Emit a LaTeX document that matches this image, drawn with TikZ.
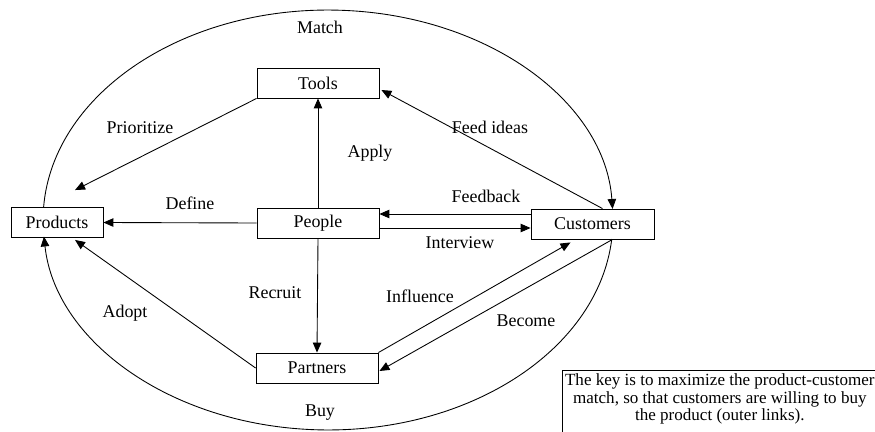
\documentclass[tikz,border=0pt]{standalone}
\usepackage{fontspec}
\setmainfont{Liberation Serif}
\usetikzlibrary{calc, arrows.meta}

\tikzset{
  unit/.style={draw, line width=0.5pt, minimum height=0.6cm, inner sep=0pt},
  link/.style={->, line width=0.5pt},
}

\begin{document}
\begin{tikzpicture}[x=0.02cm, y=-0.02cm, >={Triangle[length=0.2cm, width=0.17cm]},
  font=\fontsize{10.2}{12}\selectfont]
\useasboundingbox (0,0) rectangle (875,432);
\node[unit, minimum width=2.44cm] (Tools) at (318,83) {Tools};
\node[unit, minimum width=1.84cm] (Products) at (57,222.5) {Products};
\node[unit, minimum width=2.44cm] (People) at (318,223) {People};
\node[unit, minimum width=2.46cm] (Customers) at (592.5,224) {Customers};
\node[unit, minimum width=2.44cm] (Partners) at (317,368) {Partners};

% outer links
\coordinate (C) at (328,220);
\draw[link] ($(C)+(176.5:5.7cm and 4.2cm)$) arc[start angle=176.5, end angle=3, x radius=5.7cm, y radius=4.2cm];
\draw[link] ($(C)+(-5.2:5.7cm and 4.2cm)$) arc[start angle=-5.2, end angle=-175.5, x radius=5.7cm, y radius=4.2cm];
\node at (320,27) {Match};
\node at (320,413) {Buy};

% inner links
\draw[link] (Tools.south west) -- ($(Products.north)+(18,-17)$);
\draw[link] (People.north) -- (Tools.south);
\draw[link] (People.west) -- (Products.east);
\draw[link] ($(Customers.north)+(10,0)$) -- ($(Tools.east)+(2,7)$);
\draw[link] ($(Customers.west)+(0,-10)$) coordinate (fb) -- (People.east |- fb);
\draw[link] ($(People.east)+(0,5)$) coordinate (iv) -- (Customers.west |- iv);
\draw[link] (People.south) -- (Partners.north);
\draw[link] (Partners.west) -- ($(Products.south)+(18,2)$);
\draw[link] (Partners.north east) -- ($(Customers.south)+(-22,3)$);
\draw[link] ($(Customers.south)+(20,0)$) -- ($(Partners.east)+(1,3)$);

\node at (140,128) {Prioritize};
\node at (490,127) {Feed ideas};
\node at (370,153) {Apply};
\node at (190,203) {Define};
\node at (486,196) {Feedback};
\node at (460,243) {Interview};
\node at (275,293) {Recruit};
\node at (420,296) {Influence};
\node at (526,321) {Become};
\node at (125,313) {Adopt};

% note on the outer links, its box runs on past the page
\node[anchor=north west, align=center, inner xsep=0pt, inner ysep=2pt,
  minimum width=6.3cm, font=\fontsize{9.7}{9.96}\selectfont] (Key) at (562,370)
  {The key is to maximize the product-customer\\ match, so that customers are willing to buy\\ the product (outer links).};
\draw[line width=0.5pt] (Key.north west) rectangle ($(Key.south east)+(0,20)$);
\end{tikzpicture}
\end{document}
